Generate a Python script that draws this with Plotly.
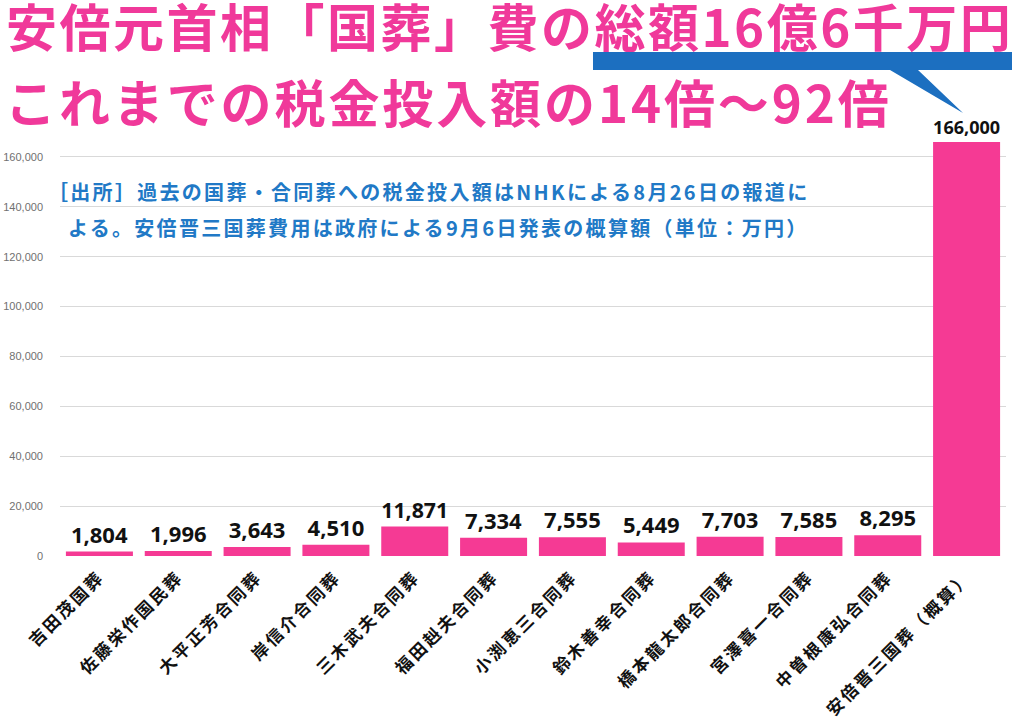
import plotly.graph_objects as go

# ---- data ----
categories = ["吉田茂国葬", "佐藤栄作国民葬", "大平正芳合同葬", "岸信介合同葬", "三木武夫合同葬",
              "福田赳夫合同葬", "小渕恵三合同葬", "鈴木善幸合同葬", "橋本龍太郎合同葬",
              "宮澤喜一合同葬", "中曽根康弘合同葬", "安倍晋三国葬（概算）"]
values = [1804, 1996, 3643, 4510, 11871, 7334, 7555, 5449, 7703, 7585, 8295, 166000]
y_tickvals = [0, 20000, 40000, 60000, 80000, 100000, 120000, 140000, 160000, 180000]
y_ticktext = ["0", "20,000", "40,000", "60,000", "80,000", "100,000", "120,000", "140,000", "160,000", ""]

title1 = "安倍元首相「国葬」費の総額16億6千万円"
title2 = "これまでの税金投入額の14倍～92倍"
note1 = "［出所］過去の国葬・合同葬への税金投入額はNHKによる8月26日の報道に"
note2 = "よる。安倍晋三国葬費用は政府による9月6日発表の概算額（単位：万円）"

# ---- layout geometry ----
W, H = 1024, 724
ML, MR, MT, MB = 60, 18, 107, 168
PW, PH = W - ML - MR, H - MT - MB

def px(x):
    return (x - ML) / PW

def py(y):
    return (H - MB - y) / PH

def spaced(s, sp):
    return f'<span style="letter-spacing:{sp}px">{s}</span>'

PINK = "#F0399A"
BAR = "#F53A94"
BLUE = "#1C6FC0"
NOTE_BLUE = "#2179C6"
JP = "Noto Sans CJK JP"

fig = go.Figure()
fig.add_trace(go.Bar(
    x=categories, y=values,
    marker=dict(color=BAR, line=dict(width=0)),
    text=[f"{v:,}" for v in values],
    textposition="outside",
    textfont=dict(family="Open Sans", size=22, color="#111111", weight="bold"),
    cliponaxis=False,
))

callout = [(593, 52), (1012, 52), (1012, 70), (918, 70), (963, 113), (890, 70), (593, 70)]
path = "M " + " L ".join(f"{px(x):.5f},{py(y):.5f}" for x, y in callout) + " Z"

fig.update_layout(
    width=W, height=H,
    margin=dict(l=ML, r=MR, t=MT, b=MB),
    paper_bgcolor="white", plot_bgcolor="white",
    bargap=0.15,
    showlegend=False,
    font=dict(family=JP),
    xaxis=dict(tickangle=-45, tickmode="array", tickvals=categories,
               ticktext=[spaced(c, 2.6) for c in categories],
               tickfont=dict(family=JP, size=17, color="#111111", weight="bold"),
               showgrid=False, showline=False, ticks="", ticklabelstandoff=7,
               automargin=False),
    yaxis=dict(range=[0, 180000], tickvals=y_tickvals, ticktext=y_ticktext,
               tickfont=dict(family="Liberation Sans", size=11, color="#707070"),
               gridcolor="#D9D9D9", gridwidth=1, zeroline=False, showline=False, ticks="",
               ticklabelstandoff=16, automargin=False),
    shapes=[dict(type="path", xref="paper", yref="paper", path=path,
                 fillcolor=BLUE, line=dict(width=0), layer="below")],
    annotations=[
        dict(text=spaced(title1, 2.5), xref="paper", yref="paper", x=px(4), y=py(25), xanchor="left",
             yanchor="middle", showarrow=False,
             font=dict(family=JP, size=51, color=PINK, weight="bold")),
        dict(text=spaced(title2, 2.9), xref="paper", yref="paper", x=px(3), y=py(101), xanchor="left",
             yanchor="middle", showarrow=False,
             font=dict(family=JP, size=51, color=PINK, weight="bold")),
        dict(text=spaced(note1, 2.3), xref="paper", yref="paper", x=px(46), y=py(191), xanchor="left",
             yanchor="middle", showarrow=False,
             font=dict(family=JP, size=20, color=NOTE_BLUE, weight="bold")),
        dict(text=spaced(note2, 2.3), xref="paper", yref="paper", x=px(66), y=py(227), xanchor="left",
             yanchor="middle", showarrow=False,
             font=dict(family=JP, size=20, color=NOTE_BLUE, weight="bold")),
    ],
)

fig.write_html("out.html", config={"displayModeBar": False},
               post_script="document.body.style.margin='0';")
